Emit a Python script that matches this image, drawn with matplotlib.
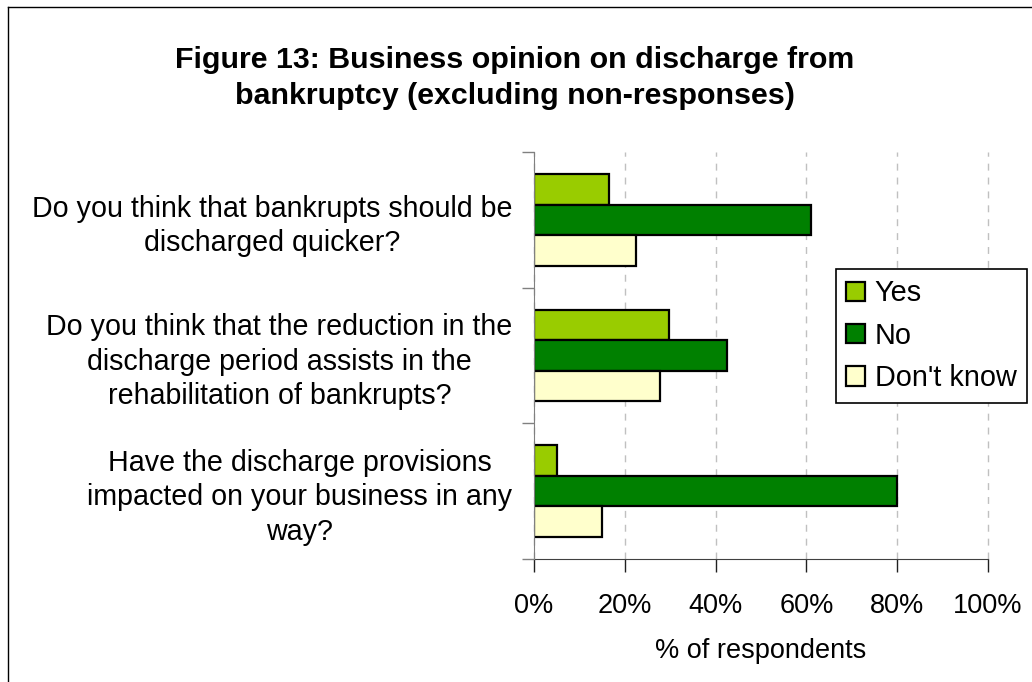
import matplotlib
matplotlib.use("Agg")
import matplotlib.pyplot as plt
from matplotlib.lines import Line2D
from matplotlib.ticker import FuncFormatter

plt.rcParams['font.family'] = ['Liberation Sans', 'DejaVu Sans']

# Survey questions (top to bottom) and response shares in percent
questions = [
    "Do you think that bankrupts should be\ndischarged quicker?",
    "Do you think that the reduction in the\ndischarge period assists in the\nrehabilitation of bankrupts?",
    "Have the discharge provisions\nimpacted on your business in any\nway?",
]
series_names = ["Yes", "No", "Don't know"]
yes_pct = [16.6, 29.7, 5.1]
no_pct = [61.0, 42.5, 80.0]
dont_know_pct = [22.4, 27.8, 14.9]
x_ticks = [0, 20, 40, 60, 80, 100]

colors = ["#99CC00", "#008000", "#FFFFCC"]
series_values = [yes_pct, no_pct, dont_know_pct]

W, H = 1032, 682
fig = plt.figure(figsize=(W / 100, H / 100), dpi=100)

ax = fig.add_axes([534 / W, 1 - 559 / H, (988 - 534) / W, (559 - 152) / H])

bar_h = 0.225
offsets = [-bar_h, 0.0, bar_h]
positions = list(range(len(questions)))
for vals, col, off, name in zip(series_values, colors, offsets, series_names):
    ax.barh([p + off for p in positions], vals, height=bar_h, color=col,
            edgecolor="black", linewidth=1.6, label=name, zorder=3)

ax.set_xlim(0, 100)
ax.set_ylim(2.5, -0.5)
ax.set_xticks(x_ticks)
ax.xaxis.set_major_formatter(FuncFormatter(lambda v, p: f"{v:.0f}%"))
ax.tick_params(axis="x", direction="out", length=9, width=1, pad=15.5,
               labelsize=19.5, color="#202020")

# category boundary ticks on the y axis, question labels between them
ax.set_yticks([-0.5, 0.5, 1.5, 2.5])
ax.set_yticklabels([])
ax.tick_params(axis="y", which="major", direction="out", length=9, width=1,
               color="#808080")
ax.set_yticks(positions, minor=True)
ax.set_yticklabels(questions, minor=True, fontsize=20.6, multialignment="center",
                   linespacing=1.3)
ax.tick_params(axis="y", which="minor", length=0, pad=15.5)

ax.grid(axis="x", color="#c0c0c0", linestyle=(0, (5, 5)), linewidth=1, zorder=0)
for gl in ax.get_xgridlines():
    gl.set_clip_on(False)
for s in ["top", "right"]:
    ax.spines[s].set_visible(False)
ax.spines["left"].set_color("#808080")
ax.spines["bottom"].set_color("#404040")
ax.spines["left"].set_zorder(4)

ax.set_xlabel("% of respondents", fontsize=19.5, labelpad=14)

fig.text(515 / W, 1 - 78 / H,
         "Figure 13: Business opinion on discharge from\nbankruptcy (excluding non-responses)",
         ha="center", va="center", fontsize=21.9, fontweight="bold",
         linespacing=1.36)

leg = fig.legend(loc="upper left", bbox_to_anchor=(836 / W, 1 - 269 / H),
                 borderaxespad=0, fancybox=False, framealpha=1,
                 edgecolor="black", fontsize=20.8, handlelength=0.66,
                 handleheight=0.66, handletextpad=0.32, labelspacing=0.5,
                 borderpad=0.36)
leg.get_frame().set_linewidth(1.2)
for h in leg.legend_handles:
    h.set_linewidth(1.6)

# outer chart-area border (left and top edges)
fig.add_artist(Line2D([8 / W, 8 / W], [0, 1 - 7 / H], transform=fig.transFigure,
                      color="black", linewidth=1))
fig.add_artist(Line2D([8 / W, 1], [1 - 7 / H, 1 - 7 / H], transform=fig.transFigure,
                      color="black", linewidth=1))

fig.savefig("out.png", dpi=100)
